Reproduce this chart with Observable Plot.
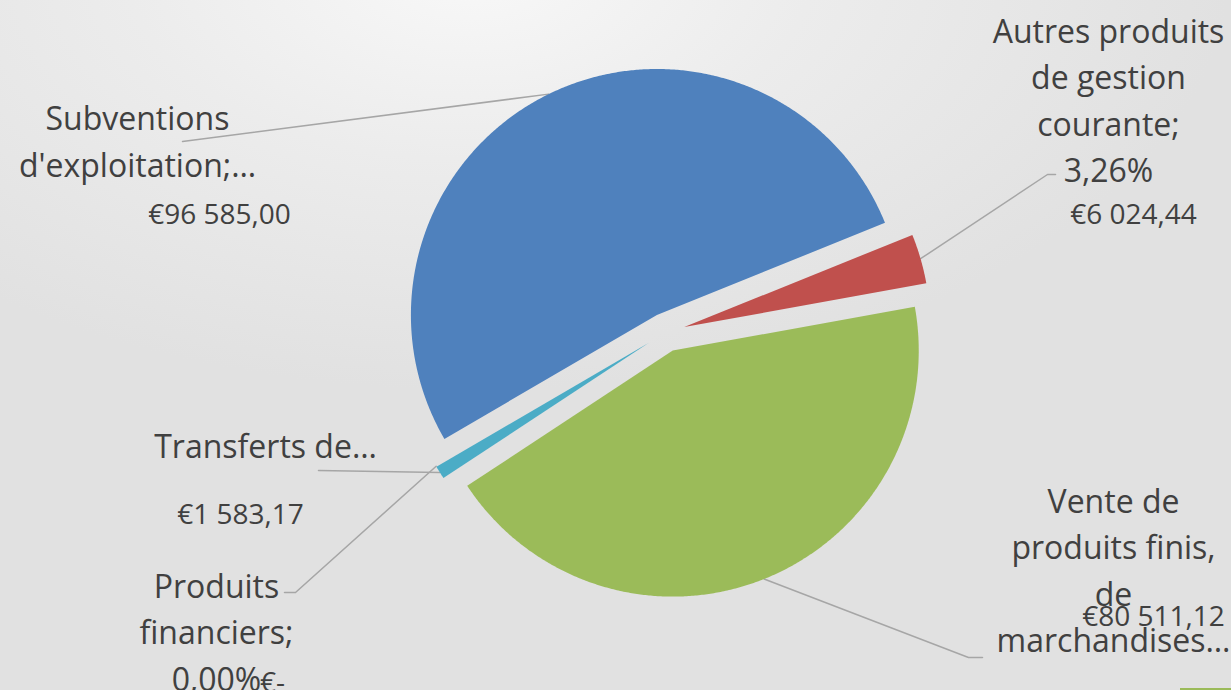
<!DOCTYPE html>
<html><head><meta charset="utf-8">
<script src="https://cdn.jsdelivr.net/npm/d3@7"></script>
<script src="https://cdn.jsdelivr.net/npm/@observablehq/plot@0.6"></script>
<style>
html,body{margin:0;padding:0;overflow:hidden;}
body{width:1231px;height:690px;background:#e0e0e0;position:relative;}
#bg{position:absolute;left:0;top:0;width:1231px;height:690px;
  background: radial-gradient(ellipse 760px 420px at 470px -30px, #f8f8f8 0%, #ececec 45%, #e1e1e1 100%);}
#chart{position:absolute;left:0;top:0;}
#swatch{position:absolute;left:1180px;top:688px;width:51px;height:2px;background:#9bbb59;}
</style></head><body><div id="bg"></div><div id="chart"></div><div id="swatch"></div>
<script>
// ---- data ----
const categories = ["Autres produits de gestion courante", "Vente de produits finis, de marchandises", "Transferts de charges", "Produits financiers", "Subventions d'exploitation"];
const values = [6024.44, 80511.12, 1583.17, 0, 96585.00];
const colors = ["#c0504d", "#9bbb59", "#4bacc6", "#8064a2", "#4f81bd"];

// ---- layout ----
const W = 1231, H = 690;
const cx = 665, cy = 332, R = 246, explode = 19.5, startDeg = 68;
const total = d3.sum(values);
const pct = v => (v / total * 100).toFixed(2).replace(".", ",") + "%";
const loc = d3.formatLocale({decimal: ",", thousands: " ", grouping: [3], currency: ["€", ""]});
const fmt = v => v === 0 ? "€-" : loc.format("$,.2f")(v);
const nameLabels = [
  "Autres produits\nde gestion\ncourante;\n" + pct(values[0]),
  "Vente de\nproduits finis,\nde\nmarchandises…",
  "Transferts de…",
  "Produits\nfinanciers;\n" + pct(values[3]),
  "Subventions\nd'exploitation;…"
];
const layout = [
  {name: [1108, 97],  value: [1133, 215], leader: [[1047, 174], [1055, 174]]},
  {name: [1113, 567], value: [1153, 617], leader: [[968, 657], [982, 657]]},
  {name: [265, 443],  value: [240, 515],  leader: [[318, 470]]},
  {name: [216, 629],  value: [272, 683],  leader: [[295, 592], [284, 592]]},
  {name: [137, 138],  value: [219, 215],  leader: [[182, 141]]}
];

const dir = deg => { const r = deg * Math.PI / 180; return [Math.sin(r), -Math.cos(r)]; };

let acc = startDeg;
const slices = categories.map((c, i) => {
  const span = values[i] / total * 360;
  const s = {name: c, a0: acc, a1: acc + span, mid: acc + span / 2, span};
  acc += span;
  const d = dir(s.mid);
  s.ox = cx + explode * d[0];
  s.oy = cy + explode * d[1];
  return s;
});

const slicePts = [];
slices.forEach(s => {
  if (s.span <= 0) return;
  slicePts.push({name: s.name, x: s.ox, y: s.oy});
  const n = Math.max(2, Math.ceil(s.span / 0.4));
  for (let k = 0; k <= n; k++) {
    const a = s.a0 + (s.a1 - s.a0) * k / n;
    const d = dir(a);
    slicePts.push({name: s.name, x: s.ox + R * d[0], y: s.oy + R * d[1]});
  }
  slicePts.push({name: s.name, x: s.ox, y: s.oy});
});

const leaderPts = [];
slices.forEach((s, i) => {
  const d = dir(s.mid);
  leaderPts.push({name: s.name, x: s.ox + R * d[0], y: s.oy + R * d[1]});
  layout[i].leader.forEach(p => leaderPts.push({name: s.name, x: p[0], y: p[1]}));
});

const nameData = categories.map((c, i) => ({x: layout[i].name[0], y: layout[i].name[1], text: nameLabels[i]}));
const valueData = categories.map((c, i) => ({x: layout[i].value[0], y: layout[i].value[1], text: fmt(values[i])}));

const chart = Plot.plot({
  width: W, height: H,
  margin: 0,
  style: {background: "transparent", overflow: "visible"},
  x: {domain: [0, W], range: [0, W], axis: null},
  y: {domain: [0, H], range: [0, H], axis: null},
  color: {domain: categories, range: colors},
  marks: [
    Plot.line(leaderPts, {x: "x", y: "y", z: "name", stroke: "#a6a6a6", strokeWidth: 1.5}),
    Plot.line(slicePts, {x: "x", y: "y", z: "name", fill: "name", stroke: "none", curve: "linear"}),
    Plot.text(nameData, {x: "x", y: "y", text: "text", fontSize: 32, lineHeight: 1.45, fill: "#404040",
      fontFamily: "Open Sans", textAnchor: "middle", lineAnchor: "middle"}),
    Plot.text(valueData, {x: "x", y: "y", text: "text", fontSize: 28, fill: "#404040",
      fontFamily: "Open Sans", textAnchor: "middle", lineAnchor: "middle"})
  ]
});
document.getElementById("chart").appendChild(chart);
</script>
</body></html>
